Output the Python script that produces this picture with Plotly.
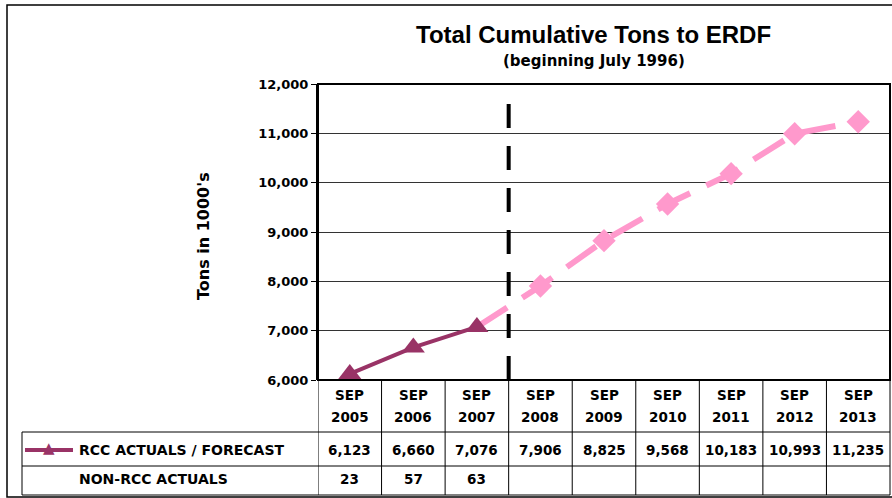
import plotly.graph_objects as go

categories = ["SEP 2005", "SEP 2006", "SEP 2007", "SEP 2008", "SEP 2009",
              "SEP 2010", "SEP 2011", "SEP 2012", "SEP 2013"]
rcc_values = [6123, 6660, 7076, 7906, 8825, 9568, 10183, 10993, 11235]
non_rcc_values = [23, 57, 63]
n_actual = 3

title = "Total Cumulative Tons to ERDF"
subtitle = "(beginning July 1996)"
ytitle = "Tons in 1000's"
row_labels = ["RCC ACTUALS / FORECAST", "NON-RCC ACTUALS"]

PURPLE = "#993366"
PINK = "#FF99CC"
FONT = "Liberation Sans, Arial, sans-serif"
SMALL = "DejaVu Sans, sans-serif"

fig = go.Figure()
fig.add_trace(go.Scatter(
    x=categories[n_actual - 1:], y=rcc_values[n_actual - 1:], mode="lines",
    line=dict(color=PINK, width=6, dash="36px,18px"), hoverinfo="skip"))
fig.add_trace(go.Scatter(
    x=categories[n_actual:], y=rcc_values[n_actual:], mode="markers",
    marker=dict(symbol="diamond", size=18, color=PINK), hoverinfo="skip"))
fig.add_trace(go.Scatter(
    x=categories[:n_actual], y=rcc_values[:n_actual], mode="lines+markers",
    line=dict(color=PURPLE, width=4),
    marker=dict(symbol="triangle-up", size=20, color=PURPLE), hoverinfo="skip"))

ann = []
shapes = []
H = 296.0
W = 572.0
def py(p):
    return -(p - 380) / H
def px(p):
    return (p - 318) / W

def A(**kw):
    d = dict(showarrow=False, xanchor="center", yanchor="middle")
    d.update(kw)
    ann.append(d)

A(text="<b>%s</b>" % title, xref="paper", yref="paper", x=px(593), y=py(34),
  font=dict(size=24, color="black", family=FONT))
A(text="<b>%s</b>" % subtitle, xref="paper", yref="paper", x=px(594), y=py(61),
  font=dict(size=15, color="black", family=SMALL))
A(text="<b>%s</b>" % ytitle, xref="paper", yref="paper", x=px(203), y=py(236),
  textangle=-90, font=dict(size=16, color="black", family=SMALL))

tf = dict(size=13.5, color="black", family=SMALL)
for i, c in enumerate(categories):
    mon, yr = c.split(" ")
    A(text="<b>%s</b>" % mon, xref="x", yref="paper", x=c, y=py(395), font=tf)
    A(text="<b>%s</b>" % yr, xref="x", yref="paper", x=c, y=py(417), font=tf)
    A(text="<b>{:,}</b>".format(rcc_values[i]), xref="x", yref="paper",
      x=c, y=py(450), font=tf)
for i, v in enumerate(non_rcc_values):
    A(text="<b>{:,}</b>".format(v), xref="x", yref="paper",
      x=categories[i], y=py(479), font=tf)

lf = dict(size=14, color="black", family=SMALL)
A(text="<b>%s</b>" % row_labels[0], xref="paper", yref="paper",
  x=px(77), y=py(450), xanchor="left", font=lf)
A(text="<b>%s</b>" % row_labels[1], xref="paper", yref="paper",
  x=px(77), y=py(479), xanchor="left", font=lf)
shapes.append(dict(type="line", xref="paper", yref="paper", x0=px(25), x1=px(73),
                   y0=py(450), y1=py(450), line=dict(color=PURPLE, width=4)))
A(text="▲", xref="paper", yref="paper", x=px(49), y=py(448),
  font=dict(size=15, color=PURPLE, family=SMALL))

tc = "black"
for k in range(len(categories)):
    shapes.append(dict(type="line", xref="x", yref="paper", x0=k - 0.5, x1=k - 0.5,
                       y0=0, y1=py(495), line=dict(color=tc, width=1)))
shapes.append(dict(type="line", xref="paper", yref="paper", x0=1, x1=1,
                   y0=0, y1=py(495), line=dict(color=tc, width=1)))
for yy in (432, 466, 495):
    shapes.append(dict(type="line", xref="paper", yref="paper", x0=px(22), x1=1,
                       y0=py(yy), y1=py(yy), line=dict(color=tc, width=1)))
shapes.append(dict(type="line", xref="paper", yref="paper", x0=px(22), x1=px(22),
                   y0=py(432), y1=py(495), line=dict(color=tc, width=1)))
shapes.append(dict(type="rect", xref="paper", yref="paper", x0=0, x1=1, y0=0, y1=1,
                   line=dict(color="black", width=2)))
shapes.append(dict(type="line", xref="x", yref="paper", x0=2.5, x1=2.5, y0=0, y1=py(88),
                   line=dict(color="black", width=4, dash="24px,18px")))
shapes.append(dict(type="rect", xref="paper", yref="paper", x0=px(7), x1=px(900),
                   y0=py(497), y1=py(5), line=dict(color="black", width=1.5)))

fig.update_layout(
    width=892, height=498,
    margin=dict(l=318, r=2, t=84, b=118),
    paper_bgcolor="white", plot_bgcolor="white",
    showlegend=False, hovermode=False,
    annotations=ann, shapes=shapes,
    xaxis=dict(type="category", categoryorder="array", categoryarray=categories,
               range=[-0.5, len(categories) - 0.5], showticklabels=False,
               showgrid=False, zeroline=False, ticks=""),
    yaxis=dict(range=[6000, 12000], dtick=1000, tickformat=",d",
               showgrid=True, gridcolor="#333333", gridwidth=1,
               ticks="outside", ticklen=5, tickcolor="black",
               showline=True, linecolor="black", linewidth=2, zeroline=False,
               tickprefix="<b>", ticksuffix="</b>",
               tickfont=dict(size=13, color="black", family=SMALL)),
    font=dict(family=FONT),
)
fig.write_html("out.html", config={"displayModeBar": False},
               post_script="document.body.style.margin='0';document.body.style.overflow='hidden';")
